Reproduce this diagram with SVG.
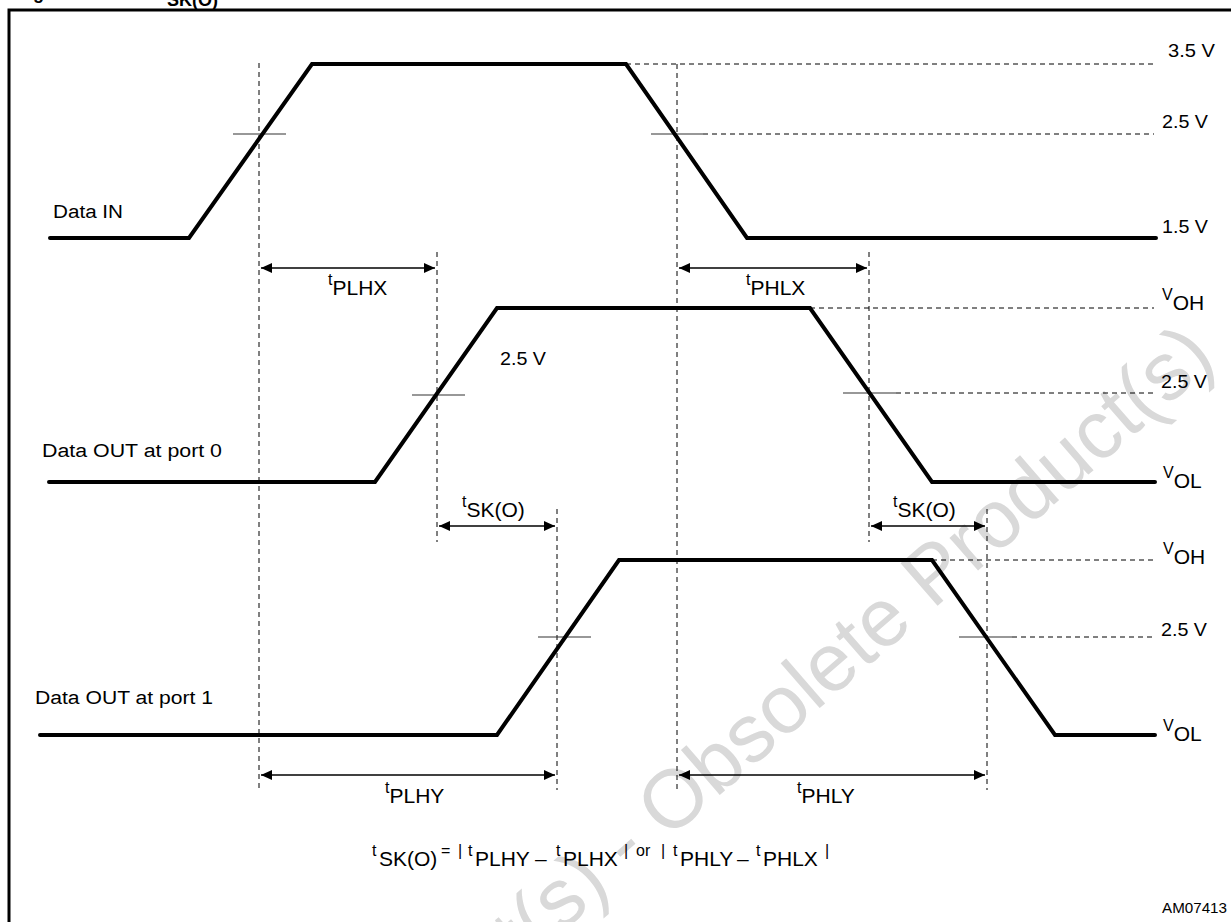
<svg xmlns="http://www.w3.org/2000/svg" width="1231" height="922" viewBox="0 0 1231 922">
<style>
text{font-family:"Liberation Sans",Arial,sans-serif;fill:#000}
.lbl{font-size:18px}
.sm{font-size:16px}
.big{font-size:21px}
.wave{fill:none;stroke:#000;stroke-width:4;stroke-linejoin:miter;stroke-linecap:round}
.dash{fill:none;stroke:#000;stroke-width:1;stroke-dasharray:5 4}
.tick{fill:none;stroke:#333;stroke-width:1.2}
.arr{fill:none;stroke:#000;stroke-width:1.5;marker-start:url(#ah);marker-end:url(#ah)}
.wm{font-size:82px;fill:#d9d9d9}
</style>
<defs>
<marker id="ah" markerUnits="userSpaceOnUse" markerWidth="12" markerHeight="12" refX="11" refY="5" orient="auto-start-reverse">
<path d="M0,0 L11,5 L0,10 Z" fill="#000"/>
</marker>
</defs>
<rect width="1231" height="922" fill="#fff"/>
<text class="wm" transform="translate(1218,362) rotate(-41)" text-anchor="end">Obsolete Product(s) - Obsolete Product(s)</text>
<g id="frame">
<rect x="9" y="10" width="1240" height="940" fill="none" stroke="#000" stroke-width="3"/>
<text x="17" y="-1" font-weight="bold" style="font-size:18px">Figure 9. <tspan x="161">t</tspan><tspan y="6">SK(O)</tspan></text>
</g>
<g id="connectors">
<path class="dash" d="M259,63V790M437,252V542M557,509V790M677,64V790M869,252V542M987,509V790"/>
<path class="dash" d="M626,64H1154M703,134H1154M810,308H1154M896,393H1154M932,560H1154M1012,637H1154"/>
<path class="tick" d="M233,134H286M651,134H703M412,395H465M843,393H896M538,637H591M959,637H1012"/>
<path class="arr" d="M261,268H435"/>
<path class="arr" d="M679,268H867"/>
<path class="arr" d="M439,526H555"/>
<path class="arr" d="M871,526H985"/>
<path class="arr" d="M261,775H555"/>
<path class="arr" d="M679,775H985"/>
</g>
<g id="data-in">
<path class="wave" d="M50,238H189L312,64H626L747,238H1156"/>
<text class="lbl" x="53" y="218" textLength="70" lengthAdjust="spacingAndGlyphs">Data IN</text>
</g>
<g id="data-out-0">
<path class="wave" d="M49,482H375L497,308H810L932,482H1155"/>
<text class="lbl" x="42" y="457" textLength="180" lengthAdjust="spacingAndGlyphs">Data OUT at port 0</text>
<text class="lbl" x="500" y="365" textLength="46" lengthAdjust="spacingAndGlyphs">2.5 V</text>
</g>
<g id="data-out-1">
<path class="wave" d="M40,735H497L619,560H932L1055,735H1155"/>
<text class="lbl" x="35" y="704" textLength="178" lengthAdjust="spacingAndGlyphs">Data OUT at port 1</text>
</g>
<g id="levels">
<text class="lbl" x="1168" y="57" textLength="47" lengthAdjust="spacingAndGlyphs">3.5 V</text>
<text class="lbl" x="1162" y="128" textLength="46" lengthAdjust="spacingAndGlyphs">2.5 V</text>
<text class="lbl" x="1162" y="233" textLength="46" lengthAdjust="spacingAndGlyphs">1.5 V</text>
<text x="1162" y="300"><tspan class="sm">V</tspan><tspan class="big" y="310">OH</tspan></text>
<text class="lbl" x="1161" y="388" textLength="46" lengthAdjust="spacingAndGlyphs">2.5 V</text>
<text x="1163" y="478"><tspan class="sm">V</tspan><tspan class="big" y="488">OL</tspan></text>
<text x="1163" y="554"><tspan class="sm">V</tspan><tspan class="big" y="564">OH</tspan></text>
<text class="lbl" x="1161" y="636" textLength="46" lengthAdjust="spacingAndGlyphs">2.5 V</text>
<text x="1163" y="731"><tspan class="sm">V</tspan><tspan class="big" y="741">OL</tspan></text>
</g>
<g id="timing-labels">
<text x="328" y="285"><tspan class="sm">t</tspan><tspan class="big" y="295">PLHX</tspan></text>
<text x="746" y="285"><tspan class="sm">t</tspan><tspan class="big" y="295">PHLX</tspan></text>
<text x="462" y="507"><tspan class="sm">t</tspan><tspan class="big" y="517">SK(O)</tspan></text>
<text x="893" y="507"><tspan class="sm">t</tspan><tspan class="big" y="517">SK(O)</tspan></text>
<text x="385" y="793"><tspan class="sm">t</tspan><tspan class="big" y="803">PLHY</tspan></text>
<text x="797" y="793"><tspan class="sm">t</tspan><tspan class="big" y="803">PHLY</tspan></text>
</g>
<g id="formula">
<text y="856"><tspan class="sm" x="372">t</tspan><tspan class="big" x="379" y="866">SK(O)</tspan><tspan class="sm" x="441" y="856">=</tspan><tspan class="sm" x="458">|</tspan><tspan class="sm" x="468">t</tspan><tspan class="big" x="475" y="866">PLHY</tspan><tspan class="big" x="535">–</tspan><tspan class="sm" x="556" y="856">t</tspan><tspan class="big" x="563" y="866">PLHX</tspan><tspan class="sm" x="624" y="856">|</tspan><tspan class="sm" x="636">or</tspan><tspan class="sm" x="661">|</tspan><tspan class="sm" x="673">t</tspan><tspan class="big" x="680" y="866">PHLY</tspan><tspan class="big" x="737">–</tspan><tspan class="sm" x="756" y="856">t</tspan><tspan class="big" x="763" y="866">PHLX</tspan><tspan class="sm" x="825" y="856">|</tspan></text>
</g>
<text x="1162" y="913" style="font-size:14px" textLength="65" lengthAdjust="spacingAndGlyphs">AM07413</text>
</svg>
